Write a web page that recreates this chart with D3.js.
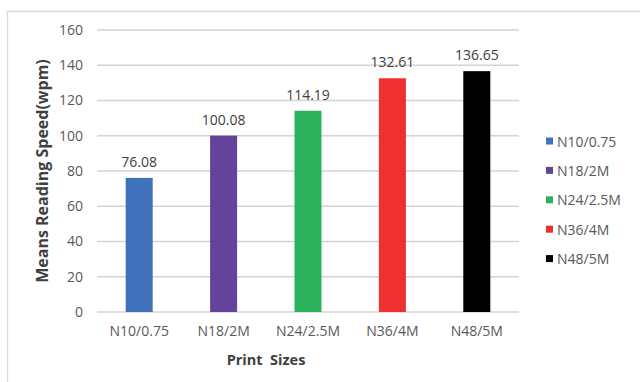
<!DOCTYPE html>
<html lang="en">
<head>
<meta charset="UTF-8">
<title>Reading speed</title>
<style>
	body { margin: 0; background: #fff; }
	text { font-family: "Open Sans", sans-serif; }
	.tick text { fill: #595959; font-size: 14px; }
	.val { fill: #404040; font-size: 14px; text-anchor: middle; }
	.title { fill: #404040; font-size: 14.5px; font-weight: bold; text-anchor: middle; }
	.ytitle { font-size: 16px; }
	.legend text { fill: #595959; font-size: 14px; }
</style>
</head>
<body>
<svg id="chart" width="640" height="382"></svg>
<script src="https://d3js.org/d3.v7.min.js"></script>
<script>
	var categories = ["N10/0.75", "N18/2M", "N24/2.5M", "N36/4M", "N48/5M"];
	var values = [76.08, 100.08, 114.19, 132.61, 136.65];
	var colors = ["#3f72ba", "#65439b", "#2bb25b", "#ee3030", "#000000"];
	var yTicks = [0, 20, 40, 60, 80, 100, 120, 140, 160];

	var svg = d3.select("#chart");
	var plotL = 97, plotR = 519, plotT = 30, plotB = 312;

	// outer frame
	svg.append("path")
		.attr("d", "M7.5,382V11.5H640")
		.attr("fill", "none")
		.attr("stroke", "#d9d9d9")
		.attr("stroke-width", 1.3);

	var x = d3.scaleBand().domain(categories).range([plotL, plotR]).padding(0);
	var y = d3.scaleLinear().domain([0, 160]).range([plotB, plotT]);

	// gridlines
	svg.append("g").selectAll("line")
		.data(yTicks)
		.enter().append("line")
		.attr("x1", plotL).attr("x2", plotR)
		.attr("y1", d => y(d)).attr("y2", d => y(d))
		.attr("stroke", "#d4d4d4")
		.attr("stroke-width", 1.5);

	var yAxis = svg.append("g")
		.attr("transform", "translate(" + plotL + ",0)")
		.call(d3.axisLeft(y).tickValues(yTicks).tickSize(0).tickPadding(14));
	yAxis.select(".domain").remove();

	var xAxis = svg.append("g")
		.attr("transform", "translate(0," + plotB + ")")
		.call(d3.axisBottom(x).tickSize(0).tickPadding(14));
	xAxis.select(".domain").remove();

	var bw = x.bandwidth() * 0.32;

	var bar = svg.append("g").selectAll("g")
		.data(values)
		.enter().append("g");

	bar.append("rect")
		.attr("x", (d, i) => x(categories[i]) + x.bandwidth() / 2 - bw / 2)
		.attr("y", d => y(d))
		.attr("width", bw)
		.attr("height", d => plotB - y(d))
		.attr("fill", (d, i) => colors[i]);

	bar.append("text")
		.attr("class", "val")
		.attr("x", (d, i) => x(categories[i]) + x.bandwidth() / 2)
		.attr("y", d => y(d) - 11)
		.text(d => d.toFixed(2));

	svg.append("text")
		.attr("class", "title ytitle")
		.attr("transform", "translate(48," + ((plotT + plotB) / 2) + ") rotate(-90)")
		.text("Means Reading Speed(wpm)");

	svg.append("text")
		.attr("class", "title")
		.attr("x", 266)
		.attr("y", 365)
		.style("white-space", "pre")
		.text("Print  Sizes");

	var legend = svg.append("g").attr("class", "legend")
		.selectAll("g")
		.data(categories)
		.enter().append("g")
		.attr("transform", (d, i) => "translate(546," + (141.5 + i * 29.4) + ")");

	legend.append("rect")
		.attr("x", 0).attr("y", -4)
		.attr("width", 7).attr("height", 7)
		.attr("fill", (d, i) => colors[i]);

	legend.append("text")
		.attr("x", 11)
		.attr("y", 5)
		.text(d => d);
</script>
</body>
</html>
